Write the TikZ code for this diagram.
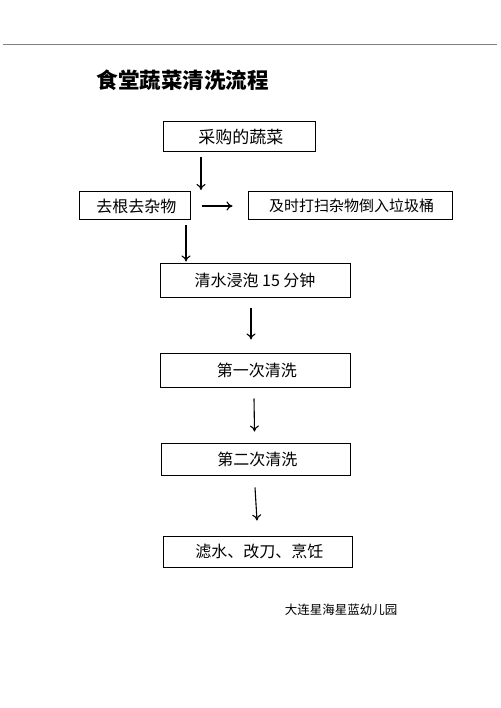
\documentclass[tikz,border=0pt]{standalone}
\usepackage{fontspec}
\setmainfont{Noto Sans CJK SC}
\usetikzlibrary{arrows.meta}

\begin{document}
\begin{tikzpicture}[x=1pt, y=-1pt, >={To[length=6pt,width=9pt]},
  box/.style={draw, line width=1pt, inner sep=0pt, font=\fontsize{16}{18}\selectfont},
  flow/.style={->, line width=1.1pt}]
\useasboundingbox (0,0) rectangle (500,708);
\draw[gray, line width=1pt] (3,45) -- (497,45);
\node (title) at (182.5,80) {\fontsize{21.5}{25}\selectfont\bfseries 食堂蔬菜清洗流程};
\node[box, minimum width=152pt, minimum height=30pt] (buy) at (239,137) {\fontsize{17}{19}\selectfont\ 采购的蔬菜};
\node[box, minimum width=111pt, minimum height=28pt] (root) at (134.5,206) {\ 去根去杂物};
\node[box, minimum width=204pt, minimum height=28pt, font=\fontsize{15}{17}\selectfont] (bin) at (350,206) {\ 及时打扫杂物倒入垃圾桶};
\node[box, minimum width=190pt, minimum height=34pt] (soak) at (255,280) {清水浸泡 15 分钟};
\node[box, minimum width=190pt, minimum height=34pt] (wash1) at (255,370) {\ 第一次清洗};
\node[box, minimum width=189pt, minimum height=32pt] (wash2) at (255.5,459) {\ 第二次清洗};
\node[box, minimum width=189pt, minimum height=31pt] (cook) at (257.5,551.5) {\ 滤水、改刀、烹饪};
\node (school) at (341,610) {\fontsize{12.5}{15}\selectfont 大连星海星蓝幼儿园};
\coordinate (drop) at (201,190);
\draw[flow] ([yshift=-5pt]buy.south -| drop) -- (drop);
\draw[flow, shorten <=11pt, shorten >=15pt] (root) -- (bin);
\draw[flow] ([xshift=51.5pt,yshift=-5pt]root.south) -- ([xshift=-69pt,yshift=1pt]soak.north);
\draw[flow] ([xshift=-4pt,yshift=-10pt]soak.south) -- ([xshift=-4pt,yshift=13pt]wash1.north);
\draw[flow] ([xshift=-1pt,yshift=-11pt]wash1.south) -- ([xshift=-1pt,yshift=11pt]wash2.north);
\draw[flow] ([xshift=-0.5pt,yshift=-12pt]wash2.south) -- ([xshift=-0.5pt,yshift=15pt]cook.north);
\end{tikzpicture}
\end{document}
